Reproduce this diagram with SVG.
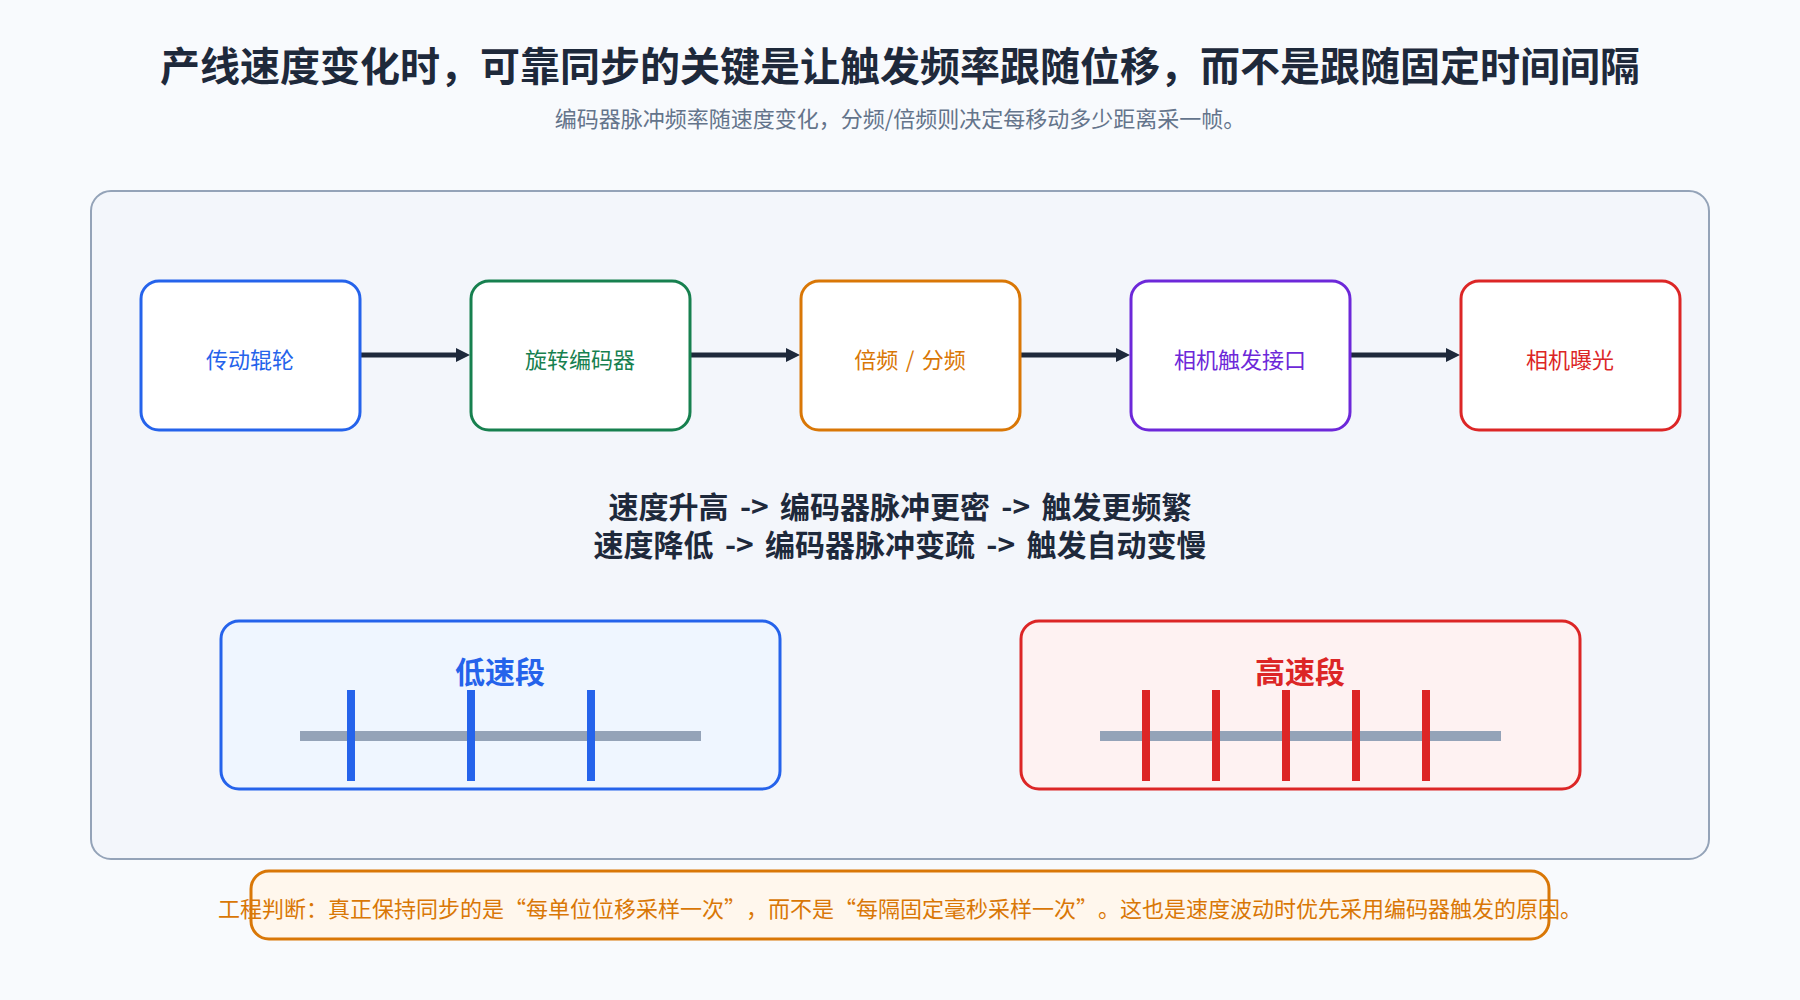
<svg xmlns="http://www.w3.org/2000/svg" width="1800" height="1000" viewBox="0 0 1800 1000">
  <style>
    text { font-family: "Noto Sans CJK SC", "Noto Sans", "Liberation Sans", sans-serif; text-spacing-trim: space-all; }
    .title { font-size: 40px; font-weight: 700; fill: #1e293b; text-anchor: middle; }
    .sub { font-size: 22px; fill: #64748b; text-anchor: middle; }
    .node { fill: #ffffff; stroke-width: 3; }
    .lbl { font-size: 22px; text-anchor: middle; word-spacing: 2.5px; }
    .flow { font-size: 30px; font-weight: 700; fill: #1e293b; text-anchor: middle; word-spacing: 4.5px; }
    .conn { stroke: #1e293b; stroke-width: 5; fill: none; }
    .seg { stroke-width: 3; }
    .segt { font-size: 30px; font-weight: 700; text-anchor: middle; }
    .axis { stroke: #94a3b8; stroke-width: 10; }
    .tick { stroke-width: 8; }
    .note { font-size: 22px; fill: #d97706; text-anchor: middle; }
  </style>
  <defs>
    <marker id="arr" markerUnits="userSpaceOnUse" markerWidth="14" markerHeight="14" refX="6" refY="7" orient="auto">
      <path d="M0,0 L14,7 L0,14 z" fill="#1e293b"/>
    </marker>
  </defs>

  <rect x="0" y="0" width="1800" height="1000" fill="#f8fafd"/>

  <g id="header">
    <text class="title" x="900" y="81">产线速度变化时，可靠同步的关键是让触发频率跟随位移，而不是跟随固定时间间隔</text>
    <text class="sub" x="900" y="127">编码器脉冲频率随速度变化，分频/倍频则决定每移动多少距离采一帧。</text>
  </g>

  <g id="panel">
    <rect x="91" y="191" width="1618" height="668" rx="20" fill="#f3f6fb" stroke="#94a3b8" stroke-width="2"/>
  </g>

  <g id="connectors">
    <line class="conn" x1="360" y1="355" x2="462" y2="355" marker-end="url(#arr)"/>
    <line class="conn" x1="690" y1="355" x2="792" y2="355" marker-end="url(#arr)"/>
    <line class="conn" x1="1020" y1="355" x2="1122" y2="355" marker-end="url(#arr)"/>
    <line class="conn" x1="1350" y1="355" x2="1452" y2="355" marker-end="url(#arr)"/>
  </g>

  <g id="node-roller">
    <rect class="node" x="141" y="281" width="219" height="149" rx="18" stroke="#2563eb"/>
    <text class="lbl" x="250" y="368" fill="#2563eb">传动辊轮</text>
  </g>
  <g id="node-encoder">
    <rect class="node" x="471" y="281" width="219" height="149" rx="18" stroke="#17804f"/>
    <text class="lbl" x="580" y="368" fill="#17804f">旋转编码器</text>
  </g>
  <g id="node-divider">
    <rect class="node" x="801" y="281" width="219" height="149" rx="18" stroke="#d97706"/>
    <text class="lbl" x="910" y="368" fill="#d97706">倍频 / 分频</text>
  </g>
  <g id="node-trigger">
    <rect class="node" x="1131" y="281" width="219" height="149" rx="18" stroke="#6d28d9"/>
    <text class="lbl" x="1240" y="368" fill="#6d28d9">相机触发接口</text>
  </g>
  <g id="node-exposure">
    <rect class="node" x="1461" y="281" width="219" height="149" rx="18" stroke="#dc2626"/>
    <text class="lbl" x="1570" y="368" fill="#dc2626">相机曝光</text>
  </g>

  <g id="flow-text">
    <text class="flow" x="900" y="518">速度升高 -&gt; 编码器脉冲更密 -&gt; 触发更频繁</text>
    <text class="flow" x="900" y="556">速度降低 -&gt; 编码器脉冲变疏 -&gt; 触发自动变慢</text>
  </g>

  <g id="low-speed">
    <rect class="seg" x="221" y="621" width="559" height="168" rx="18" fill="#eff6ff" stroke="#2563eb"/>
    <text class="segt" x="500" y="683" fill="#2563eb">低速段</text>
    <line class="axis" x1="300" y1="736" x2="701" y2="736"/>
    <line class="tick" x1="351" y1="690" x2="351" y2="781" stroke="#2563eb"/>
    <line class="tick" x1="471" y1="690" x2="471" y2="781" stroke="#2563eb"/>
    <line class="tick" x1="591" y1="690" x2="591" y2="781" stroke="#2563eb"/>
  </g>

  <g id="high-speed">
    <rect class="seg" x="1021" y="621" width="559" height="168" rx="18" fill="#fef2f2" stroke="#dc2626"/>
    <text class="segt" x="1300" y="683" fill="#dc2626">高速段</text>
    <line class="axis" x1="1100" y1="736" x2="1501" y2="736"/>
    <line class="tick" x1="1146" y1="690" x2="1146" y2="781" stroke="#dc2626"/>
    <line class="tick" x1="1216" y1="690" x2="1216" y2="781" stroke="#dc2626"/>
    <line class="tick" x1="1286" y1="690" x2="1286" y2="781" stroke="#dc2626"/>
    <line class="tick" x1="1356" y1="690" x2="1356" y2="781" stroke="#dc2626"/>
    <line class="tick" x1="1426" y1="690" x2="1426" y2="781" stroke="#dc2626"/>
  </g>

  <g id="note">
    <rect x="251" y="871" width="1298" height="68" rx="18" fill="#fff7ed" stroke="#d97706" stroke-width="3"/>
    <text class="note" x="900" y="917">工程判断：真正保持同步的是“每单位位移采样一次”，而不是“每隔固定毫秒采样一次”。这也是速度波动时优先采用编码器触发的原因。</text>
  </g>
</svg>
